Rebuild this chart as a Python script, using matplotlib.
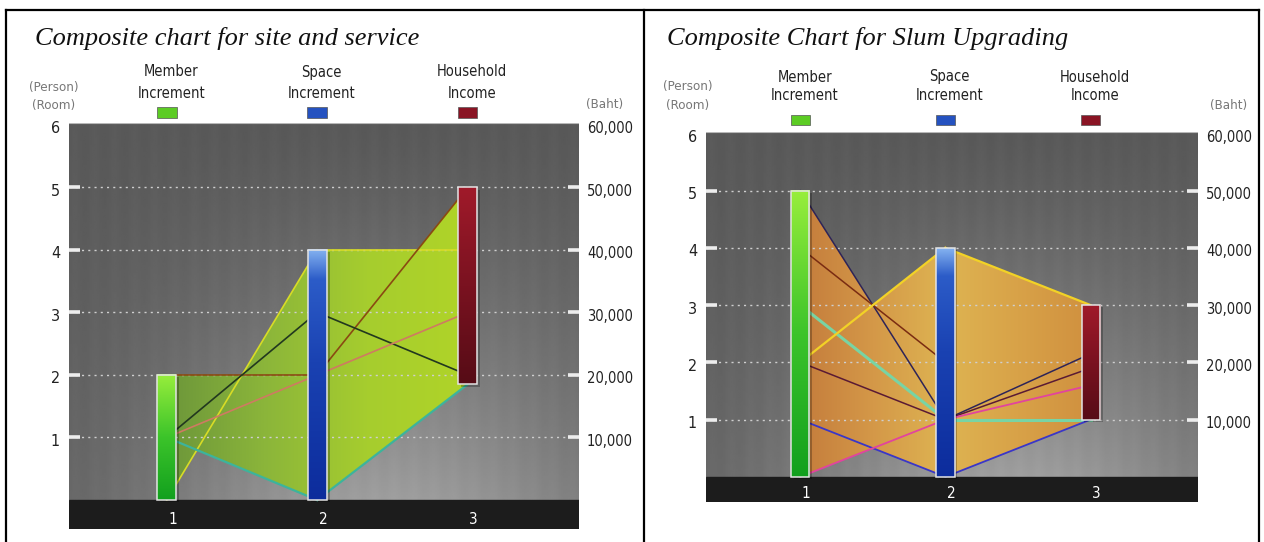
import numpy as np
import matplotlib.pyplot as plt
from matplotlib import transforms
from matplotlib.colors import LinearSegmentedColormap
from matplotlib.patches import Rectangle, Polygon
from matplotlib.lines import Line2D

W, H = 1264, 542
NARROW = dict(family='DejaVu Sans', stretch='condensed')
SERIF = ['Liberation Serif', 'DejaVu Serif']

axis_pos = [1, 2, 3]
axis_names = [("Member", "Increment"), ("Space", "Increment"), ("Household", "Income")]
left_ticks = [1, 2, 3, 4, 5, 6]
baht_ticks = ["10,000", "20,000", "30,000", "40,000", "50,000", "60,000"]

# site and service households: member (person), space (room), income (baht)
ss_member = [0, 2, 1, 1, 1]
ss_space = [4, 2, 3, 2, 0]
ss_income = [40000, 50000, 20000, 30000, 18500]
ss_colors = ['#d8dc26', '#8a4a12', '#22381f', '#cf7a62', '#3cb49c']
ss_widths = [1.2, 1.2, 1.2, 1.2, 1.6]

# slum upgrading households
su_member = [5, 4, 3, 2, 2, 1, 0]
su_space = [1, 2, 1, 4, 1, 0, 1]
su_income = [21500, np.nan, 10000, 30000, 19000, 10000, 16000]
su_colors = ['#2e2458', '#7a2c12', '#78d4a4', '#f2d226', '#5a1a34', '#3a36c8', '#e2449e']
su_widths = [1.1, 1.1, 2.2, 1.6, 1.1, 1.3, 1.3]

bar_cmaps = [
    LinearSegmentedColormap.from_list('g', ['#12a01e', '#3cc42a', '#98ee3c']),
    LinearSegmentedColormap.from_list('b', [(0, '#0c2c9c'), (0.55, '#1a42b2'),
                                           (0.88, '#2c5cc8'), (1, '#84b2f0')]),
    LinearSegmentedColormap.from_list('r', ['#560c16', '#7a1220', '#a01a2a']),
]
swatch_colors = ['#5ccc24', '#2552c0', '#8a1424']

ss_fill = LinearSegmentedColormap.from_list('ssf', ['#6c963a', '#8cb63a', '#a6cd2e', '#b0d428'])
su_fill = LinearSegmentedColormap.from_list('suf', ['#c47c3c', '#d49848', '#deb452', '#d8a248', '#d0903f'])

XL = (0.35, 3.74)


def px(x, y):
    return x / W, 1 - y / H


def draw_panel(ax, member, space, income, colors, widths, fill_cmap, strip_h, title, tx,
               head_y, sw_y, unit_x, unit_y, baht_x):
    vals = np.column_stack([member, space, np.asarray(income, float) / 10000])
    top = 6.03
    ax.set_xlim(*XL)
    ax.set_ylim(-strip_h, top)
    ax.axis('off')

    # grey backdrop, darker on top and lighter towards the lower middle
    gx = np.linspace(0, 1, 300)
    gy = np.linspace(0, 1, 200)
    GX, GY = np.meshgrid(gx, gy)
    shade = 0.35 + 0.27 * GY ** 1.3 * np.exp(-((GX - 0.62) / 0.5) ** 2)
    shade += 0.006 * np.sin(GX * 160)
    ax.imshow(shade, cmap='gray', vmin=0, vmax=1, extent=(XL[0], XL[1], 0, top),
              aspect='auto', zorder=0, interpolation='bilinear')
    ax.axhspan(-strip_h, 0, color='#1c1c1c', zorder=0.5)
    ax.plot(XL, [top, top], color='#b8b8b8', lw=0.8, zorder=0.6)

    # envelope of all household lines, filled with a horizontal gradient
    t = np.linspace(0, 1, 300)
    xs, hi, lo = [], [], []
    for i in range(2):
        seg = vals[:, i:i + 2]
        seg = seg[np.isfinite(seg).all(axis=1)]
        ys = seg[:, :1] + (seg[:, 1:] - seg[:, :1]) * t
        xs.append(axis_pos[i] + t)
        hi.append(ys.max(axis=0))
        lo.append(ys.min(axis=0))
    xs, hi, lo = np.concatenate(xs), np.concatenate(hi), np.concatenate(lo)
    verts = np.vstack([np.column_stack([xs, hi]), np.column_stack([xs[::-1], lo[::-1]])])
    env = Polygon(verts, closed=True, facecolor='none', edgecolor='none')
    ax.add_patch(env)
    im = ax.imshow(np.linspace(0, 1, 256)[None, :], cmap=fill_cmap, extent=(1, 3, 0, 6),
                   aspect='auto', zorder=1)
    im.set_clip_path(env)

    # dotted grid and white tick dashes
    for v in range(1, 6):
        ax.plot(XL, [v, v], color='#cfcfcf', lw=1.0, ls=(0, (1.5, 3)), zorder=2)
    tr = transforms.blended_transform_factory(ax.transAxes, ax.transData)
    dash = 11 / (ax.get_position().width * W)
    for v in range(1, 6):
        ax.plot([0, dash], [v, v], color='#ededed', lw=2.6, transform=tr, zorder=2.1,
                solid_capstyle='butt')
        ax.plot([1 - dash, 1], [v, v], color='#ededed', lw=2.6, transform=tr, zorder=2.1,
                solid_capstyle='butt')

    # household lines
    for row, c, w in zip(vals, colors, widths):
        for i in range(2):
            if np.isfinite(row[i:i + 2]).all():
                ax.plot(axis_pos[i:i + 2], row[i:i + 2], color=c, lw=w, zorder=3)

    # range bars with gradient and a soft shadow on the right
    bw = 0.125
    for i, x in enumerate(axis_pos):
        col = vals[:, i]
        b0, b1 = np.nanmin(col), np.nanmax(col)
        ax.add_patch(Rectangle((x - bw / 2 + 0.02, b0 - 0.04), bw, b1 - b0, facecolor='black',
                               alpha=0.25, lw=0, zorder=3.9))
        ax.imshow(np.linspace(0, 1, 256)[:, None], cmap=bar_cmaps[i], origin='lower',
                  extent=(x - bw / 2, x + bw / 2, b0, b1), aspect='auto', zorder=4)
        ax.add_patch(Rectangle((x - bw / 2, b0), bw, b1 - b0, facecolor='none',
                               edgecolor='#e4e4e4', lw=1.1, zorder=4.1))
        ax.text(x + 0.04, -strip_h * 0.66, str(x), color='white', fontsize=11,
                ha='center', va='center', zorder=5, **NARROW)

    ax.set_xlim(*XL)
    ax.set_ylim(-strip_h, top)

    # axis value labels
    lt = transforms.offset_copy(tr, fig=ax.figure, x=-9, y=-4, units='dots')
    rt = transforms.offset_copy(tr, fig=ax.figure, x=8, y=-4, units='dots')
    for v, b in zip(left_ticks, baht_ticks):
        ax.text(0, v, str(v), transform=lt, ha='right', va='center', fontsize=11.5,
                color='#222222', **NARROW)
        ax.text(1, v, b, transform=rt, ha='left', va='center', fontsize=10.5,
                color='#222222', **NARROW)

    # headers over each axis
    fig = ax.figure
    ht = transforms.blended_transform_factory(ax.transData, fig.transFigure)
    for x, (l1, l2), sc in zip(axis_pos, axis_names, swatch_colors):
        fig.text(x + 0.03, 1 - head_y[0] / H, l1, transform=ht, ha='center', va='center',
                 fontsize=10.5, color='#222222', **NARROW)
        fig.text(x + 0.03, 1 - head_y[1] / H, l2, transform=ht, ha='center', va='center',
                 fontsize=10.5, color='#222222', **NARROW)
        fig.add_artist(Rectangle((x - 0.065, 1 - sw_y[1] / H), 0.13, (sw_y[1] - sw_y[0]) / H,
                                 transform=ht, facecolor=sc, edgecolor='#555555', lw=0.5))

    fig.text(*px(unit_x, unit_y[0]), "(Person)", ha='center', va='center', fontsize=9.5,
             color='#777777', **NARROW)
    fig.text(*px(unit_x, unit_y[1]), "(Room)", ha='center', va='center', fontsize=9.5,
             color='#777777', **NARROW)
    fig.text(*px(baht_x, unit_y[2]), "(Baht)", ha='center', va='center', fontsize=9.5,
             color='#777777', **NARROW)
    fig.text(*px(tx, 45), title, ha='left', va='baseline', fontsize=19, family=SERIF,
             style='italic', color='#111111')


fig = plt.figure(figsize=(W / 100, H / 100), dpi=100)

# site and service: plot 69..579 px wide, 123..529 px tall
ax1 = fig.add_axes([69 / W, 1 - 529 / H, 510 / W, 406 / H])
draw_panel(ax1, ss_member, ss_space, ss_income, ss_colors, ss_widths, ss_fill, 0.464,
           "Composite chart for site and service", 35,
           head_y=(72, 93), sw_y=(107, 118), unit_x=54, unit_y=(88, 106, 104), baht_x=605)

# slum upgrading: plot 706..1198 px wide, 131.7..502 px tall
ax2 = fig.add_axes([706 / W, 1 - 502 / H, 492 / W, 370.3 / H])
draw_panel(ax2, su_member, su_space, su_income, su_colors, su_widths, su_fill, 0.44,
           "Composite Chart for Slum Upgrading", 667,
           head_y=(77, 96), sw_y=(115, 125), unit_x=688, unit_y=(87, 105, 106), baht_x=1229)

# outer frame and divider
for xa, ya, xb, yb in [(6, 10, 1259, 10), (6, 10, 6, 542), (644, 10, 644, 542), (1259, 10, 1259, 542)]:
    fig.add_artist(Line2D([xa / W, xb / W], [1 - ya / H, 1 - yb / H], color='black', lw=1.6))

fig.savefig('out.png', dpi=100)
